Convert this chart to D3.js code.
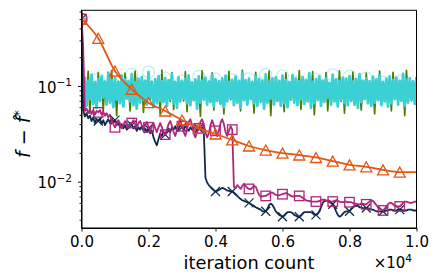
<!DOCTYPE html>
<html>
<head>
<meta charset="utf-8">
<script src="https://cdn.jsdelivr.net/npm/d3@7"></script>
<style>
  body { margin: 0; background: #fff; }
  text { font-family: "DejaVu Sans", sans-serif; fill: #000; }
</style>
</head>
<body>
<script>
// data (iteration grid + readings)
var itersFine = d3.range(0, 10001, 50);
var itersCoarse = d3.range(0, 10001, 500);

var orangeVals = [0.5, 0.315, 0.1435, 0.0924, 0.0669, 0.0548, 0.0441, 0.0361, 0.0315, 0.0273,
  0.0236, 0.0214, 0.0199, 0.0190, 0.0179, 0.0164, 0.0150, 0.0143, 0.0133, 0.0126, 0.0126];

var navyVals = [0.5, .056, .048, .052, .046, .049, .043, .047, .041, .045,
  .043, .046, .040, .044, .039, .042, .045, .041, .046, .042,
  .044, .039, .041, .037, .040, .036, .039, .035, .038, .041,
  .039, .036, .038, .034, .037, .035, .038, .034, .036, .033,
  .036, .032, .034, .029, .026, .024, .028, .032, .030, .033,
  .031, .034, .036, .033, .037, .035, .038, .034, .036, .039,
  .037, .035, .038, .036, .034, .037, .035, .038, .036, .034,
  .036, .035, .037, .034, .011, .0098, .0092, .0088, .0084, .0081,
  .0079, .0080, .0082, .0084, .0086, .0085, .0083, .0081, .0080, .0079,
  .0079, .0077, .0074, .0071, .0068, .0066, .0064, .0063, .0062, .0061,
  .0060, .00585, .0057, .00557, .0054, .0053, .0052, .0051, .0049, .0049,
  .0049, .0052, .0057, .0059, .0057, .0053, .0049, .0047, .0045, .0044,
  .0043, .0044, .0046, .0048, .0048, .0048, .0047, .0045, .0044, .0043,
  .0043, .0044, .0046, .0048, .0048, .0048, .0048, .0048, .0047, .0045,
  .0045, .0046, .0049, .0054, .0060, .0063, .0063, .0063, .0061, .0060,
  .0058, .0054, .0049, .0045, .0043, .0044, .0046, .0048, .0049, .0049,
  .0049, .0052, .0054, .0056, .0056, .0056, .0054, .0054, .0053, .0053,
  .0053, .0053, .0052, .0051, .0051, .0050, .0049, .0049, .0049, .0049,
  .0049, .0049, .0050, .0050, .0051, .0051, .0050, .0050, .0050, .0051,
  .0051, .0051, .0050, .0050, .0050, .0051, .0051, .0051, .0050, .0050, .0050];

var magentaVals = [0.5, .25, .055, .058, .052, .057, .051, .056, .050, .055,
  .053, .056, .050, .054, .049, .052, .047, .050, .044, .040,
  .037, .040, .044, .040, .036, .039, .043, .040, .037, .040,
  .041, .044, .040, .037, .041, .043, .039, .036, .039, .042,
  .037, .034, .038, .041, .036, .033, .037, .041, .037, .033,
  .031, .035, .040, .043, .038, .033, .030, .035, .041, .044,
  .038, .033, .030, .035, .042, .045, .039, .032, .029, .033,
  .036, .042, .045, .040, .033, .029, .032, .039, .044, .039,
  .034, .030, .034, .041, .045, .040, .033, .030, .034, .038,
  .035, .0088, .0086, .0092, .0088, .0084, .0090, .0095, .0090, .0086,
  .0084, .0083, .0087, .0090, .0089, .0080, .0073, .0070, .0070, .0071,
  .0071, .0073, .0075, .0077, .0077, .0075, .0073, .0072, .0072, .0073,
  .0074, .0075, .0076, .0075, .0073, .0071, .0070, .0070, .0071, .0071,
  .0071, .0070, .0068, .0066, .0064, .0063, .0063, .0062, .0062, .0062,
  .0062, .0062, .0063, .0064, .0065, .0065, .0064, .0063, .0063, .0062,
  .0062, .0063, .0064, .0063, .0062, .0061, .0061, .0062, .0062, .0061,
  .0061, .0061, .0060, .0059, .0059, .0058, .0058, .0059, .0059, .0058,
  .0058, .0060, .0062, .0064, .0063, .0060, .0057, .0054, .0052, .0051,
  .0050, .0052, .0055, .0058, .0060, .0060, .0058, .0056, .0055, .0055,
  .0055, .0057, .0060, .0062, .0062, .0061, .0060, .0060, .0061, .0062, .0062];

var cyanVals = [0.5,
  .068,.122,.062,.113,.073,.131,.065,.109,.059,.118,.070,.126,.076,.111,.064,.138,.067,.116,.060,.121,
  .072,.107,.066,.128,.061,.117,.074,.112,.069,.133,.063,.110,.058,.119,.067,.124,.071,.114,.064,.140,
  .075,.108,.061,.118,.066,.127,.070,.112,.068,.121,.062,.115,.073,.134,.065,.110,.059,.123,.069,.113,
  .074,.119,.066,.129,.063,.109,.071,.117,.058,.126,.067,.114,.072,.122,.064,.111,.068,.131,.061,.118,
  .070,.112,.065,.120,.060,.128,.069,.110,.076,.116,.063,.125,.067,.113,.059,.137,.071,.115,.064,.119,
  .073,.109,.066,.127,.062,.118,.068,.114,.058,.132,.067,.111,.074,.120,.064,.123,.070,.113,.062,.128,
  .066,.116,.060,.110,.072,.130,.067,.119,.063,.112,.073,.124,.065,.115,.069,.136,.059,.111,.066,.118,
  .071,.126,.062,.114,.068,.121,.075,.108,.064,.131,.069,.117,.061,.113,.072,.122,.066,.119,.063,.127,
  .070,.111,.064,.118,.059,.133,.068,.114,.073,.121,.066,.112,.062,.125,.067,.117,.071,.129,.063,.110,
  .069,.119,.061,.126,.066,.115,.074,.122,.064,.113,.070,.134,.062,.117,.067,.120,.072,.112,.065,.125];

var greenVals = [0.5,
  .072,.110,.070,.142,.052,.108,.074,.112,.071,.139,.069,.106,.056,.111,.073,.109,.075,.145,.070,.107,
  .049,.112,.072,.108,.071,.136,.074,.110,.055,.106,.070,.143,.073,.111,.071,.109,.053,.107,.075,.140,
  .072,.112,.070,.108,.074,.110,.050,.147,.071,.106,.073,.111,.069,.138,.057,.109,.072,.112,.074,.107,
  .070,.141,.054,.110,.073,.108,.071,.112,.075,.106,.048,.144,.072,.109,.070,.111,.074,.137,.056,.108,
  .071,.110,.073,.112,.051,.107,.070,.142,.072,.109,.074,.106,.069,.111,.055,.146,.073,.108,.071,.110,
  .075,.112,.052,.139,.070,.107,.072,.109,.074,.111,.071,.143,.049,.106,.073,.110,.070,.108,.072,.112,
  .054,.137,.074,.109,.071,.111,.073,.107,.070,.145,.057,.110,.072,.108,.075,.112,.071,.141,.050,.106,
  .073,.109,.070,.111,.072,.138,.055,.108,.074,.110,.071,.107,.073,.144,.069,.112,.052,.109,.072,.106,
  .070,.140,.074,.111,.071,.108,.056,.110,.073,.136,.070,.107,.072,.112,.051,.109,.074,.143,.071,.111,
  .073,.106,.070,.108,.055,.139,.072,.110,.074,.112,.071,.107,.049,.146,.073,.109,.070,.111,.072,.108];

var xTicks = [0, 2000, 4000, 6000, 8000, 10000];
var yMajor = [0.01, 0.1];
var yMajorExp = ["\u22122", "\u22121"];
var yMinor = [0.004, 0.005, 0.006, 0.007, 0.008, 0.009,
  0.02, 0.03, 0.04, 0.05, 0.06, 0.07, 0.08, 0.09, 0.2, 0.3, 0.4, 0.5, 0.6];

// graph
var margin = {top: 10.3, right: 19.5, bottom: 52, left: 81.5},
    width = 436 - margin.left - margin.right,
    height = 280 - margin.top - margin.bottom;

var root = d3.select("body").append("svg")
    .attr("width", 436)
    .attr("height", 280);

var svg = root.append("g")
    .attr("transform", "translate(" + margin.left + "," + margin.top + ")");

var x = d3.scaleLinear().domain([0, 10000]).range([0, width]);
var y = d3.scaleLog().domain([0.00328, 0.618]).range([height, 0]);

svg.append("clipPath").attr("id", "clip")
  .append("rect").attr("width", width).attr("height", height);

var plot = svg.append("g").attr("clip-path", "url(#clip)");

function lineOf(iters, curve) {
  return d3.line()
    .x((d, i) => x(iters[i]))
    .y(d => y(d))
    .curve(curve || d3.curveLinear);
}

function drawLine(vals, iters, color, w, curve) {
  plot.append("path")
    .datum(vals)
    .attr("d", lineOf(iters, curve))
    .attr("fill", "none")
    .attr("stroke", color)
    .attr("stroke-width", w)
    .attr("stroke-linejoin", "round");
}

// markers every 500 iterations (every 10th fine point)
function everyTenth(vals) {
  return vals.map((v, i) => ({it: itersFine[i], v: v})).filter((d, i) => i % 10 === 0 && d.it < 10000);
}

var cGreen = "#4c7d00", cCyan = "#3ad0d4", cNavy = "#0f2c4c", cMag = "#b0247c", cOrange = "#e5560e";

drawLine(greenVals, itersFine, cGreen, 1.7);

plot.selectAll(".cyc").data(everyTenth(cyanVals).slice(1)).enter().append("circle")
  .attr("cx", d => x(d.it)).attr("cy", d => y(d.v)).attr("r", 6)
  .attr("fill", "none").attr("stroke", cCyan).attr("stroke-width", 1.2).attr("opacity", 0.35);

drawLine(cyanVals, itersFine, cCyan, 2.8);

plot.append("circle")
  .attr("cx", x(itersFine[0])).attr("cy", y(cyanVals[0])).attr("r", 6)
  .attr("fill", "none").attr("stroke", cCyan).attr("stroke-width", 1.3);

drawLine(navyVals, itersFine, cNavy, 1.8);
plot.selectAll(".nvx").data(everyTenth(navyVals)).enter().append("path")
  .attr("transform", d => "translate(" + x(d.it) + "," + y(d.v) + ")")
  .attr("d", "M-4.5,-4.5L4.5,4.5M-4.5,4.5L4.5,-4.5")
  .attr("stroke", cNavy).attr("stroke-width", 1.3).attr("fill", "none");

drawLine(magentaVals, itersFine, cMag, 1.8);
plot.selectAll(".mgs").data(everyTenth(magentaVals)).enter().append("rect")
  .attr("x", d => x(d.it) - 4.75).attr("y", d => y(d.v) - 4.75)
  .attr("width", 9.5).attr("height", 9.5)
  .attr("fill", "none").attr("stroke", cMag).attr("stroke-width", 1.3);

drawLine(orangeVals, itersCoarse, cOrange, 1.8, d3.curveMonotoneX);
plot.selectAll(".ort").data(orangeVals.slice(0, 20)).enter().append("path")
  .attr("transform", (d, i) => "translate(" + x(itersCoarse[i]) + "," + y(d) + ")")
  .attr("d", "M0,-5L5.5,5L-5.5,5Z")
  .attr("fill", "none").attr("stroke", cOrange).attr("stroke-width", 1.3);

// axes
var xAxis = svg.append("g")
    .attr("transform", "translate(0," + height + ")")
    .call(d3.axisBottom(x).tickValues(xTicks).tickSize(3.5).tickSizeOuter(0).tickPadding(5.2)
      .tickFormat(d => (d / 10000).toFixed(1)));
xAxis.selectAll("text").style("font-size", "15px");

svg.append("g")
    .call(d3.axisLeft(y).tickValues(yMajor).tickSize(3.5).tickSizeOuter(0).tickFormat(""));
svg.append("g")
    .call(d3.axisLeft(y).tickValues(yMinor).tickSize(2).tickSizeOuter(0).tickFormat(""))
    .select(".domain").remove();

yMajor.forEach(function(v, i) {
  var t = svg.append("text")
    .attr("x", -9.5).attr("y", y(v) + 6.6)
    .attr("text-anchor", "end")
    .style("font-size", "15px");
  t.append("tspan").text("10");
  t.append("tspan").attr("dy", -6.2).style("font-size", "10.5px").text(yMajorExp[i]);
});

svg.selectAll(".domain").attr("stroke", "#000");
svg.selectAll(".tick line").attr("stroke", "#000").attr("stroke-width", 0.9);

// frame
svg.append("rect")
  .attr("width", width).attr("height", height)
  .attr("fill", "none").attr("stroke", "#000").attr("stroke-width", 1);

// labels
root.append("text")
  .attr("x", 249).attr("y", 269)
  .attr("text-anchor", "middle")
  .style("font-size", "17.8px")
  .text("iteration count");

var off = root.append("text")
  .attr("x", 412).attr("y", 268)
  .attr("text-anchor", "end")
  .style("font-size", "15px");
off.append("tspan").text("\u00d710");
off.append("tspan").attr("dy", -6.5).style("font-size", "10.5px").text("4");

var yl = root.append("text")
  .attr("transform", "translate(30,134) rotate(-90)")
  .attr("text-anchor", "middle")
  .style("font-size", "19px");
yl.append("tspan").style("font-style", "italic").text("f");
yl.append("tspan").text(" \u2212 ");
yl.append("tspan").style("font-style", "italic").text("f\u0302");
yl.append("tspan").attr("dy", -7).style("font-size", "13px").text("*");
</script>
</body>
</html>
